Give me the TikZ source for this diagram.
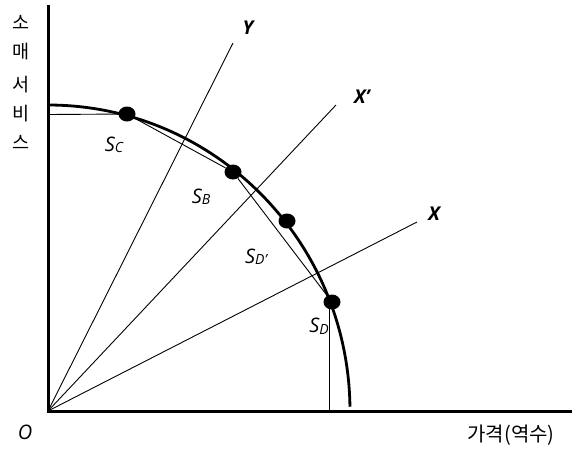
\documentclass[tikz,border=0pt]{standalone}
\usepackage{fontspec}
\setmainfont{Open Sans}
\newfontfamily\kr{Noto Sans CJK KR}
\usetikzlibrary{shapes.geometric}
\tikzset{
  axisline/.style={line width=3pt},
  thinline/.style={line width=0.9pt},
  dotnode/.style={ellipse, fill=black, inner sep=0pt, minimum width=17pt, minimum height=15pt},
  slabel/.style={inner sep=0pt, font=\fontsize{20}{20}\selectfont\itshape},
  axlabel/.style={inner sep=0pt, font=\fontsize{19}{19}\selectfont\bfseries\itshape},
  krlabel/.style={inner sep=0pt, font=\kr\fontsize{18.5}{18.5}\selectfont}
}
\newcommand{\sub}[1]{{\fontsize{14}{14}\selectfont\itshape\raisebox{-1.5pt}{#1}}}
\begin{document}
\begin{tikzpicture}[x=1pt,y=-1pt]
\useasboundingbox (0,0) rectangle (572,448);
% axes
\coordinate (O) at (48,411);
\coordinate (ytop) at (48,5);
\coordinate (xend) at (572,411);
\draw[axisline] (ytop) -- (48,412.5);
\draw[axisline] (46.5,411) -- (xend);
% rays
\coordinate (Ytip) at (233,43);
\coordinate (Xptip) at (336,105);
\coordinate (Xtip) at (417,222);
\draw[thinline] (O) -- (Ytip);
\draw[thinline] (O) -- (Xptip);
\draw[thinline] (O) -- (Xtip);
% curve
\draw[line width=2.8pt] (48,105) arc[start angle=-90, end angle=-0.8, x radius=302, y radius=306];
% dots
\node[dotnode] (sc) at (127,114) {};
\node[dotnode] (sb) at (233,172) {};
\node[dotnode] (sdp) at (287,221) {};
\node[dotnode] (sd) at (332,302) {};
% chords
\coordinate (hstart) at (48,114.5);
\draw[thinline] (hstart) -- (sc);
\draw[thinline] (sc) -- (sb);
\draw[thinline] (sb) -- (sd);
\coordinate (sdv) at (329.5,302);
\coordinate (sdfoot) at (329.5,411);
\draw[thinline] (sdv) -- (sdfoot);
% labels
\node[slabel] (lsc) at (114,145) {S\sub{C}};
\node[slabel] (lsb) at (201,197) {S\sub{B}};
\node[slabel] (lsdp) at (256,257) {S\sub{D'}};
\node[slabel] (lsd) at (319,326) {S\sub{D}};
\node[axlabel] (lY) at (248,28) {Y};
\node[axlabel] (lXp) at (362,97) {X'};
\node[axlabel] (lX) at (434,214) {X};
\node[inner sep=0pt, font=\fontsize{20}{20}\selectfont\itshape] (lO) at (25,432) {O};
\node[krlabel, font=\kr\fontsize{20}{20}\selectfont] (lx) at (511,435) {가격(역수)};
\node[krlabel] (k1) at (21,22) {소};
\node[krlabel] (k2) at (21,52) {매};
\node[krlabel] (k3) at (21,85) {서};
\node[krlabel] (k4) at (21,114) {비};
\node[krlabel] (k5) at (21,142) {스};
\end{tikzpicture}
\end{document}
